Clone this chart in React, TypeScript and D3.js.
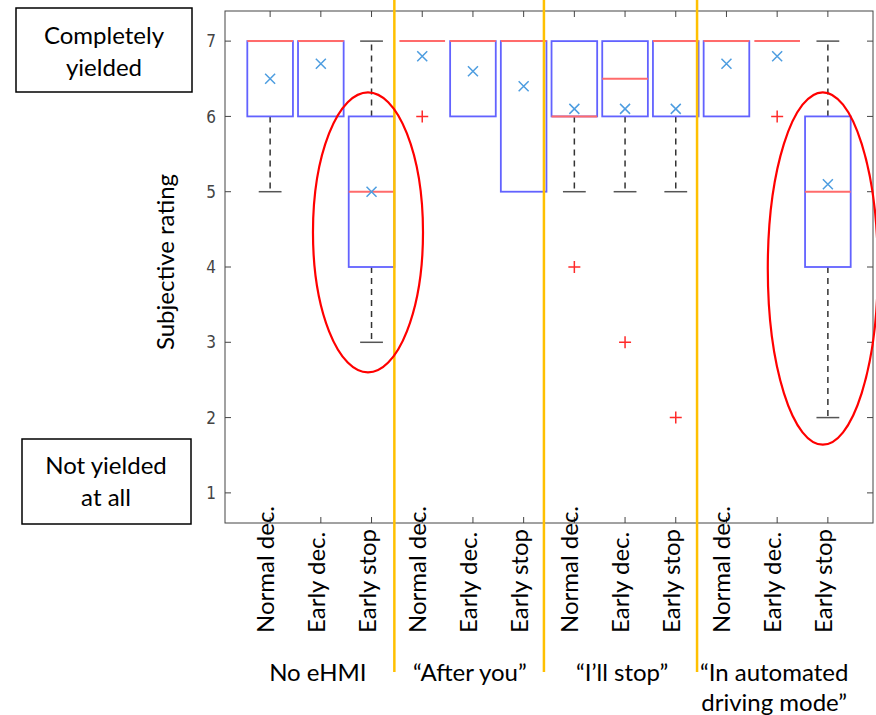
import React from 'react';
import * as d3 from 'd3';

const categories = [
  'Normal dec.', 'Early dec.', 'Early stop',
  'Normal dec.', 'Early dec.', 'Early stop',
  'Normal dec.', 'Early dec.', 'Early stop',
  'Normal dec.', 'Early dec.', 'Early stop',
];
const groups = [['No eHMI'], ['“After you”'], ['“I’ll stop”'], ['“In automated', 'driving mode”']];
const q1 = [6, 6, 4, 7, 6, 5, 6, 6, 6, 6, 7, 4];
const median = [7, 7, 5, 7, 7, 7, 6, 6.5, 7, 7, 7, 5];
const q3 = [7, 7, 6, 7, 7, 7, 7, 7, 7, 7, 7, 6];
const whiskerLow = [5, 6, 3, 7, 6, 5, 5, 5, 5, 6, 7, 2];
const whiskerHigh = [7, 7, 7, 7, 7, 7, 7, 7, 7, 7, 7, 7];
const means = [6.5, 6.7, 5.0, 6.8, 6.6, 6.4, 6.1, 6.1, 6.1, 6.7, 6.8, 5.1];
const outliers = [[], [], [], [6], [], [], [4], [3], [2], [], [6], []];
const yTicks = [1, 2, 3, 4, 5, 6, 7];
const separators = [3.45, 6.4, 9.42];
// highlight ellipses: [cx, cy, rx, ry] in data units
const ellipses = [
  [2.93, 4.46, 1.085, 1.86],
  [11.9, 3.98, 1.085, 2.34],
];

const W = 876;
const H = 715;
const plot = { left: 225, right: 873, top: 11, bottom: 523 };
const textFont = 'Lato, "Open Sans", sans-serif';
const tickFont = '"Liberation Sans Narrow", "DejaVu Sans Condensed", sans-serif';

const App = () => {
  const x = d3.scaleLinear().domain([0.11, 12.89]).range([plot.left, plot.right]);
  const y = d3.scaleLinear().domain([0.6, 7.4]).range([plot.bottom, plot.top]);
  const bw = (x(1.9) - x(1)) / 2; // half box width
  const cap = bw / 2;

  return (
    <svg width={W} height={H} style={{ position: 'absolute', left: 0, top: 0, background: '#fff' }}>
      {/* axes box */}
      <rect x={plot.left} y={plot.top} width={plot.right - plot.left} height={plot.bottom - plot.top}
        fill="none" stroke="#444" strokeWidth={1} />
      {yTicks.map((t) => (
        <g key={t}>
          <line x1={plot.left} x2={plot.left + 6} y1={y(t)} y2={y(t)} stroke="#444" />
          <line x1={plot.right} x2={plot.right - 6} y1={y(t)} y2={y(t)} stroke="#444" />
          <text x={216} y={y(t)} dy="0.36em" textAnchor="end" fontSize={17}
            fontFamily={tickFont} fill="#444">{t}</text>
        </g>
      ))}
      {categories.map((c, i) => (
        <g key={i}>
          <line x1={x(i + 1)} x2={x(i + 1)} y1={plot.top} y2={plot.top + 6} stroke="#444" />
          <line x1={x(i + 1)} x2={x(i + 1)} y1={plot.bottom} y2={plot.bottom - 6} stroke="#444" />
        </g>
      ))}

      {/* boxes */}
      {categories.map((c, i) => {
        const cx = x(i + 1);
        return (
          <g key={'b' + i}>
            {whiskerHigh[i] > q3[i] && (
              <g>
                <line x1={cx} x2={cx} y1={y(q3[i])} y2={y(whiskerHigh[i])} stroke="#333"
                  strokeWidth={1.5} strokeDasharray="6,5" />
                <line x1={cx - cap} x2={cx + cap} y1={y(whiskerHigh[i])} y2={y(whiskerHigh[i])}
                  stroke="#555" strokeWidth={1.5} />
              </g>
            )}
            {whiskerLow[i] < q1[i] && (
              <g>
                <line x1={cx} x2={cx} y1={y(q1[i])} y2={y(whiskerLow[i])} stroke="#333"
                  strokeWidth={1.5} strokeDasharray="6,5" />
                <line x1={cx - cap} x2={cx + cap} y1={y(whiskerLow[i])} y2={y(whiskerLow[i])}
                  stroke="#555" strokeWidth={1.5} />
              </g>
            )}
            {q3[i] > q1[i] && (
              <rect x={cx - bw} y={y(q3[i])} width={bw * 2} height={y(q1[i]) - y(q3[i])}
                fill="none" stroke="#6262ff" strokeWidth={1.8} />
            )}
            <line x1={cx - bw} x2={cx + bw} y1={y(median[i])} y2={y(median[i])}
              stroke="#ff6b6b" strokeWidth={2} />
            {outliers[i].map((o, k) => (
              <path key={k} d={`M${cx - 6},${y(o)}H${cx + 6}M${cx},${y(o) - 6}V${y(o) + 6}`}
                stroke="#ff2a2a" strokeWidth={1.5} fill="none" />
            ))}
            <path d={`M${cx - 5},${y(means[i]) - 5}L${cx + 5},${y(means[i]) + 5}M${cx - 5},${y(means[i]) + 5}L${cx + 5},${y(means[i]) - 5}`}
              stroke="#4d9de0" strokeWidth={1.5} fill="none" />
          </g>
        );
      })}

      {/* group separators */}
      {separators.map((s, i) => (
        <line key={'s' + i} x1={x(s)} x2={x(s)} y1={0} y2={672} stroke="#ffc000" strokeWidth={2.5} />
      ))}

      {/* highlight ellipses */}
      {ellipses.map((e, i) => (
        <ellipse key={'e' + i} cx={x(e[0])} cy={y(e[1])} rx={x(e[2]) - x(0)} ry={y(0) - y(e[3])}
          fill="none" stroke="#ff0000" strokeWidth={2.2} />
      ))}

      {/* category labels */}
      {categories.map((c, i) => (
        <text key={'c' + i} transform={`translate(${x(i + 1) + 4},633) rotate(-90)`}
          fontSize={24} fontFamily={textFont} fill="#000">{c}</text>
      ))}

      {/* group labels */}
      {groups.map((g, i) => (
        <text key={'g' + i} x={x(i * 3 + 2) - 4} y={681} textAnchor="middle"
          fontSize={24} fontFamily={textFont} fill="#000">
          {g.map((line, k) => (
            <tspan key={k} x={x(i * 3 + 2) - 3} dy={k === 0 ? 0 : 30}>{line}</tspan>
          ))}
        </text>
      ))}

      {/* y label */}
      <text transform="translate(174,262) rotate(-90)" textAnchor="middle" fontSize={24}
        fontFamily={textFont} fill="#000">Subjective rating</text>

      {/* annotation boxes */}
      <rect x={16} y={8} width={176} height={84} fill="#fff" stroke="#000" strokeWidth={1.5} />
      <text x={104} y={44} textAnchor="middle" fontSize={24} fontFamily={textFont}>Completely</text>
      <text x={104} y={76} textAnchor="middle" fontSize={24} fontFamily={textFont}>yielded</text>
      <rect x={22} y={439} width={169} height={85} fill="#fff" stroke="#000" strokeWidth={1.5} />
      <text x={106} y={474} textAnchor="middle" fontSize={24} fontFamily={textFont}>Not yielded</text>
      <text x={106} y={506} textAnchor="middle" fontSize={24} fontFamily={textFont}>at all</text>
    </svg>
  );
};

export default App;
